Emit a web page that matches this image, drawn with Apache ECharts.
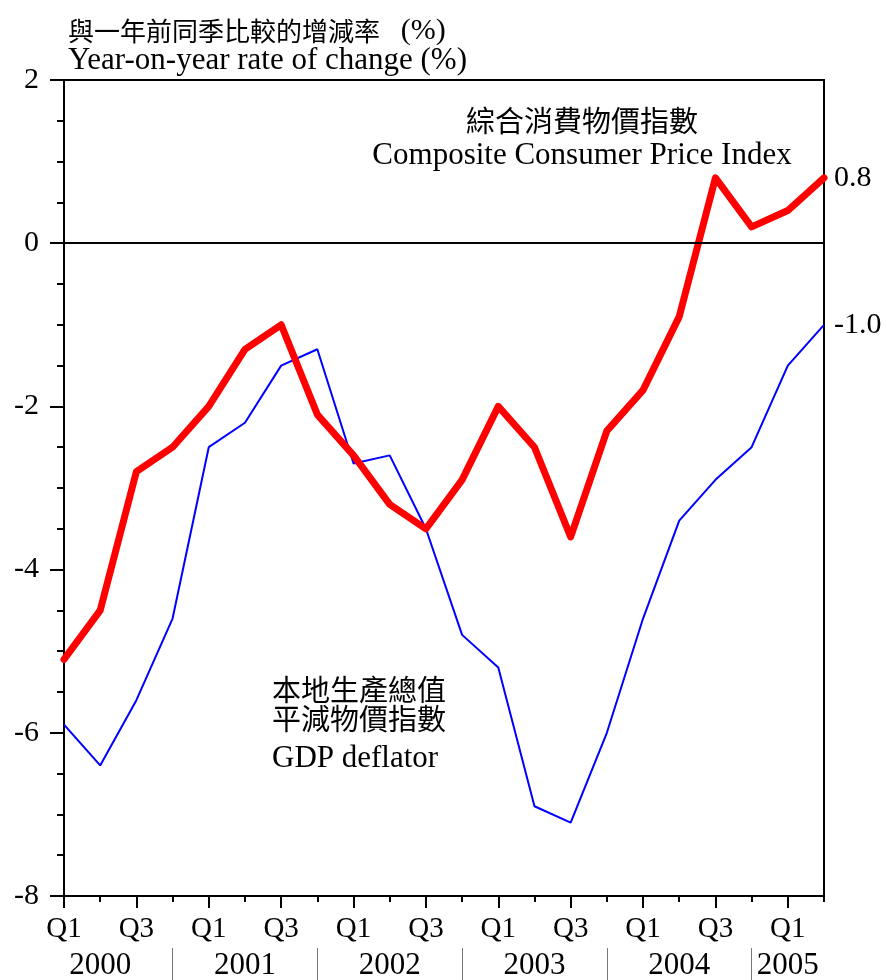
<!DOCTYPE html>
<html>
<head>
<meta charset="utf-8">
<script src="https://cdn.jsdelivr.net/npm/echarts@6/dist/echarts.min.js"></script>
<style>
  html, body { margin: 0; padding: 0; background: #fff; }
  #chart { width: 887px; height: 980px; }
</style>
</head>
<body>
<div id="chart"></div>
<script>
var quarters = [
  "Q1", "Q2", "Q3", "Q4", "Q1", "Q2", "Q3", "Q4", "Q1", "Q2", "Q3", "Q4",
  "Q1", "Q2", "Q3", "Q4", "Q1", "Q2", "Q3", "Q4", "Q1", "Q2"
];
var years = [
  "2000", "2000", "2000", "2000", "2001", "2001", "2001", "2001",
  "2002", "2002", "2002", "2002", "2003", "2003", "2003", "2003",
  "2004", "2004", "2004", "2004", "2005", "2005"
];
var cpi = [
  -5.1, -4.5, -2.8, -2.5, -2.0, -1.3, -1.0, -2.1, -2.6, -3.2, -3.5, -2.9,
  -2.0, -2.5, -3.6, -2.3, -1.8, -0.9, 0.8, 0.2, 0.4, 0.8
];
var gdpDeflator = [
  -5.9, -6.4, -5.6, -4.6, -2.5, -2.2, -1.5, -1.3, -2.7, -2.6, -3.5, -4.8,
  -5.2, -6.9, -7.1, -6.0, -4.6, -3.4, -2.9, -2.5, -1.5, -1.0
];

var serif = "Liberation Serif";
var cjk = "Noto Sans CJK TC";

var myChart = echarts.init(document.getElementById("chart"));

var option = {
  animation: false,
  backgroundColor: "#fff",
  title: [
    {
      text: "與一年前同季比較的增減率 {pc|  (%)}\n{en|Year-on-year rate of change (%)}",
      left: 63, top: 11,
      textStyle: {
        fontFamily: cjk, fontSize: 26, fontWeight: "normal", color: "#000", lineHeight: 30,
        rich: {
          pc: { fontFamily: serif, fontSize: 30, color: "#000", lineHeight: 30 },
          en: { fontFamily: serif, fontSize: 31, color: "#000", lineHeight: 30 }
        }
      }
    },
    {
      text: "綜合消費物價指數\n{en|Composite Consumer Price Index}",
      left: 577, top: 98, textAlign: "center",
      textStyle: {
        fontFamily: cjk, fontSize: 29, fontWeight: "normal", color: "#000", lineHeight: 36,
        rich: { en: { fontFamily: serif, fontSize: 31, color: "#000", lineHeight: 34 } }
      }
    },
    {
      text: "本地生產總值\n平減物價指數\n{en|GDP deflator}",
      left: 267, top: 670,
      textStyle: {
        fontFamily: cjk, fontSize: 29, fontWeight: "normal", color: "#000", lineHeight: 29,
        rich: { en: { fontFamily: serif, fontSize: 31, color: "#000", lineHeight: 52 } }
      }
    }
  ],
  grid: {
    left: 64, right: 63, top: 80, bottom: 84,
    outerBoundsMode: "none",
    show: true, borderColor: "#000", borderWidth: 2
  },
  xAxis: [
    {
      type: "category", data: quarters, boundaryGap: false,
      axisLine: { onZero: false, lineStyle: { color: "#000", width: 2 } },
      axisTick: { show: true, interval: 0, length: 6, lineStyle: { color: "#000", width: 2 } },
      axisLabel: {
        interval: function (i) { return i % 2 === 0; },
        fontFamily: serif, fontSize: 29, color: "#000", margin: 19
      },
      splitLine: { show: false }
    },
    {
      type: "category", data: quarters, boundaryGap: false, position: "bottom",
      axisLine: { show: false, onZero: false },
      axisTick: {
        show: true, interval: function (i) { return i % 2 === 0; },
        length: 12, lineStyle: { color: "#000", width: 2 }
      },
      axisLabel: { show: false },
      splitLine: { show: false }
    },
    {
      type: "category", data: years, boundaryGap: false, position: "bottom", offset: 52,
      axisLine: { show: false, onZero: false },
      axisTick: {
        show: true, interval: function (i) { return i % 4 === 3; },
        length: 32, lineStyle: { color: "#777", width: 1 }
      },
      axisLabel: {
        interval: function (i) { return i % 4 === 1 || i === 20; },
        fontFamily: serif, fontSize: 31, color: "#000", margin: 2
      },
      splitLine: { show: false }
    }
  ],
  yAxis: {
    type: "value", min: -8, max: 2, interval: 2,
    axisLine: { show: true, lineStyle: { color: "#000", width: 2 } },
    axisTick: { show: true, length: 14, lineStyle: { color: "#000", width: 2 } },
    minorTick: { show: true, splitNumber: 4, length: 7, lineStyle: { color: "#000", width: 2 } },
    axisLabel: { fontFamily: serif, fontSize: 30, color: "#000", margin: 25 },
    splitLine: { show: false }
  },
  series: [
    {
      name: "GDP deflator", type: "line", data: gdpDeflator,
      xAxisIndex: 0, symbol: "none", z: 3,
      lineStyle: { color: "#0000ff", width: 2 },
      endLabel: {
        show: true, formatter: function (p) { return p.value.toFixed(1); },
        fontFamily: serif, fontSize: 30, color: "#000", distance: 10
      }
    },
    {
      name: "Composite CPI", type: "line", data: cpi,
      xAxisIndex: 0, symbol: "none", z: 4,
      lineStyle: { color: "#ff0000", width: 7, cap: "round", join: "round" },
      endLabel: {
        show: true, formatter: function (p) { return p.value.toFixed(1); },
        fontFamily: serif, fontSize: 30, color: "#000", distance: 10
      },
      markLine: {
        silent: true, symbol: "none", label: { show: false },
        lineStyle: { color: "#000", width: 2, type: "solid" },
        data: [{ yAxis: 0 }]
      }
    }
  ]
};

myChart.setOption(option);
</script>
</body>
</html>
